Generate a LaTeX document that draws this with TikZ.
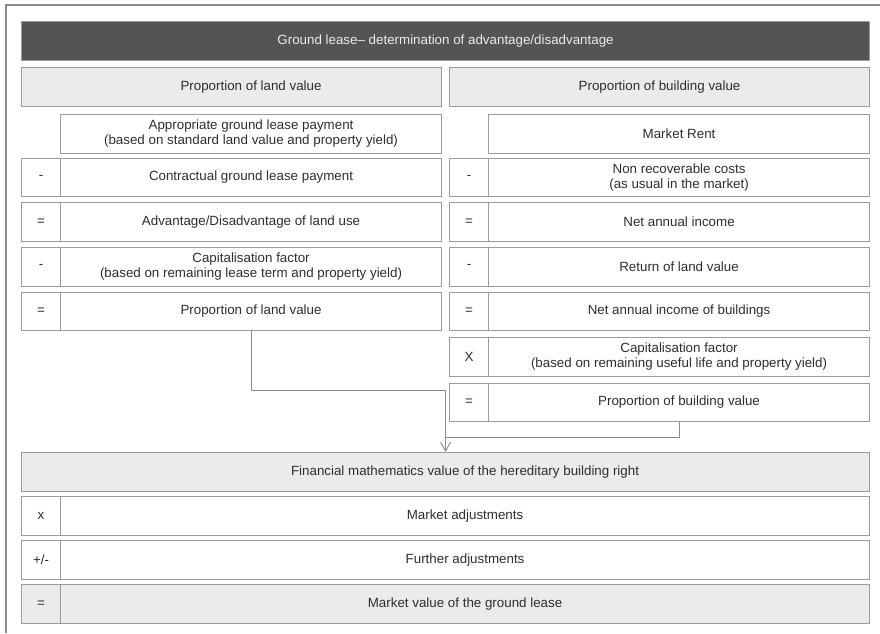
\documentclass[tikz,border=0pt]{standalone}
\usepackage{fontspec}
\setmainfont{Liberation Sans}
\usetikzlibrary{arrows.meta}
\definecolor{headfill}{HTML}{545452}
\definecolor{lightfill}{HTML}{EBEBEB}
\definecolor{boxline}{HTML}{9C9C9C}
\definecolor{connline}{HTML}{8C8C8C}
\definecolor{txt}{HTML}{2E2E2E}
\tikzset{
  cell/.style={draw=boxline, line width=1.1pt, text=txt, anchor=north west,
    inner sep=0pt, align=center, minimum height=38.5pt,
    font=\fontsize{13.35}{15}\selectfont},
  signcell/.style={cell, minimum width=39pt},
  maincell/.style={cell, minimum width=381pt},
  widecell/.style={cell, minimum width=848pt},
  halfcell/.style={cell, minimum width=420pt, fill=lightfill},
  shaded/.style={fill=lightfill},
  conn/.style={draw=connline, line width=0.9pt},
  arrowtip/.style={-{Straight Barb[length=9pt,width=10pt,line width=0.9pt]}}
}
% text centred over the area right of the sign column
\newcommand{\skipsign}{\hspace*{39pt}}
\begin{document}
\begin{tikzpicture}[x=1pt,y=-1pt]
\useasboundingbox (0,0) rectangle (880,633);
% open outer frame
\draw[draw=connline, line width=1.1pt] (6,633) -- (6,5) -- (880,5);

% title bar
\node[widecell, fill=headfill, text=white!92!black] (title) at (21,21) {Ground lease-- determination of advantage/disadvantage};

% column headings
\node[halfcell] (landhead) at (21,67) {\skipsign Proportion of land value};
\node[halfcell] (bldhead) at (449,67) {Proportion of building value};

% land value column
\node[maincell] (L0) at (60,114) {Appropriate ground lease payment\\(based on standard land value and property yield)};
\node[signcell] (L1s) at (21,157.5) {-};
\node[maincell] (L1) at (60,157.5) {Contractual ground lease payment};
\node[signcell] (L2s) at (21,202) {=};
\node[maincell] (L2) at (60,202) {Advantage/Disadvantage of land use};
\node[signcell] (L3s) at (21,247) {-};
\node[maincell] (L3) at (60,247) {Capitalisation factor\\(based on remaining lease term and property yield)};
\node[signcell] (L4s) at (21,291.5) {=};
\node[maincell] (L4) at (60,291.5) {Proportion of land value};

% building value column
\node[maincell] (R0) at (488,114) {Market Rent};
\node[signcell] (R1s) at (449,157.5) {-};
\node[maincell] (R1) at (488,157.5) {Non recoverable costs\\(as usual in the market)};
\node[signcell] (R2s) at (449,202) {=};
\node[maincell] (R2) at (488,202) {Net annual income};
\node[signcell] (R3s) at (449,247) {-};
\node[maincell] (R3) at (488,247) {Return of land value};
\node[signcell] (R4s) at (449,291.5) {=};
\node[maincell] (R4) at (488,291.5) {Net annual income of buildings};
\node[signcell] (R5s) at (449,337) {X};
\node[maincell] (R5) at (488,337) {Capitalisation factor\\(based on remaining useful life and property yield)};
\node[signcell] (R6s) at (449,382.5) {=};
\node[maincell] (R6) at (488,382.5) {Proportion of building value};

% combined result
\node[widecell, shaded] (fin) at (21,452) {\skipsign Financial mathematics value of the hereditary building right};
\node[signcell] (B1s) at (21,496) {x};
\node[cell, minimum width=809pt] (B1) at (60,496) {Market adjustments};
\node[signcell] (B2s) at (21,540) {+/-};
\node[cell, minimum width=809pt] (B2) at (60,540) {Further adjustments};
\node[signcell, shaded] (B3s) at (21,584) {=};
\node[cell, minimum width=809pt, shaded] (B3) at (60,584) {Market value of the ground lease};

% connectors into the result
\coordinate (turnL) at (0,390);
\coordinate (turnR) at (0,437);
\draw[conn, arrowtip] (L4.south) |- (turnL -| fin.north) -- (fin.north);
\draw[conn] (R6.south) |- (turnR -| fin.north);
\end{tikzpicture}
\end{document}
